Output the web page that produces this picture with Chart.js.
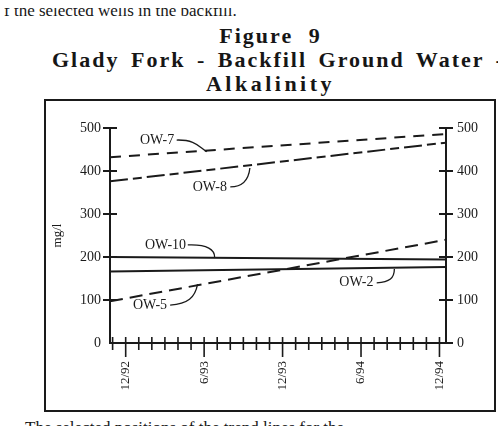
<!DOCTYPE html>
<html>
<head>
<meta charset="utf-8">
<script src="https://cdn.jsdelivr.net/npm/chart.js@4.4.1/dist/chart.umd.min.js"></script>
<style>
  html, body { margin: 0; padding: 0; background: #fff; }
  body { width: 498px; height: 426px; position: relative; overflow: hidden;
         font-family: 'Liberation Serif', 'Times New Roman', serif; color: #161616; }
  .txt { position: absolute; white-space: nowrap; }
  #lead { left: 4px; top: 8px; height: 12px; width: 498px; overflow: hidden; font-size: 17px; }
  #lead span { position: absolute; left: 0; top: -7px; }
  .ttl { position: absolute; left: 45px; width: 451px; text-align: center; font-weight: bold;
         font-size: 22px; letter-spacing: 2px; word-spacing: 2px; white-space: nowrap; line-height: 24px; }
  #t1 { top: 24px; word-spacing: 8px; }
  #t2 { top: 48px; left: 52px; width: auto; text-align: left; word-spacing: 4px; }
  #t3 { top: 72px; letter-spacing: 3.5px; }
  #box { position: absolute; left: 44px; top: 99px; width: 452px; height: 313px;
         box-sizing: border-box; border: 2px solid #1a1a1a; }
  #wrap { position: absolute; left: 46px; top: 101px; width: 448px; height: 309px; }
  #foot { left: 25px; top: 418px; font-size: 17px; }
</style>
</head>
<body>
<div id="lead" class="txt"><span>f the selected wells in the backfill.</span></div>
<div id="t1" class="ttl">Figure 9</div>
<div id="t2" class="ttl">Glady Fork - Backfill Ground Water -</div>
<div id="t3" class="ttl">Alkalinity</div>
<div id="box"></div>
<div id="wrap"><canvas id="chart" width="448" height="309"></canvas></div>
<div id="foot" class="txt">The selected positions of the trend lines for the</div>

<script>
// months since 12/92, trend lines span the whole axis
const months = [-1.2, 24.5];
const ow7 = [432, 486];
const ow8 = [376, 466];
const ow10 = [200, 194];
const ow2 = [166, 177];
const ow5 = [97, 240];

const yTicks = [0, 100, 200, 300, 400, 500];
const majorMonths = [0, 6, 12, 18, 24];
const monthLabels = ['12/92', '6/93', '12/93', '6/94', '12/94'];
const minorMonths = [];
for (let m = -1; m <= 24; m++) minorMonths.push(m);

const ink = '#1a1a1a';
const serif = "'Liberation Serif', 'Times New Roman', serif";

// label text + leader curve, in data coords (month, mg/l)
const callouts = [
  { text: 'OW-7', at: [1.09, 472], path: [[3.9, 472], [5.4, 473], [5.6, 455], [6.2, 445]] },
  { text: 'OW-8', at: [5.13, 361], path: [[8.0, 363], [8.95, 363], [9.4, 379], [9.5, 407]] },
  { text: 'OW-10', at: [1.47, 226], path: [[4.75, 228], [6.3, 230], [6.8, 216], [6.8, 200]] },
  { text: 'OW-5', at: [0.55, 88], path: [[3.4, 88], [4.75, 91], [5.3, 105], [5.5, 137]] },
  { text: 'OW-2', at: [16.34, 142], path: [[19.2, 140], [20.2, 142], [20.55, 151], [20.55, 172]] }
];

function pts(ys) {
  return months.map((m, i) => ({ x: m, y: ys[i] }));
}

function line(ctx, x1, y1, x2, y2) {
  ctx.beginPath();
  ctx.moveTo(x1, y1);
  ctx.lineTo(x2, y2);
  ctx.stroke();
}

const crossTicks = {
  id: 'crossTicks',
  afterDraw(chart) {
    const { ctx, chartArea, scales: { x, y } } = chart;
    ctx.save();
    ctx.strokeStyle = ink;
    ctx.lineWidth = 2;
    yTicks.forEach(v => {
      const py = y.getPixelForValue(v);
      if (v !== 0) line(ctx, chartArea.left - 7, py, chartArea.left + 7, py);
      line(ctx, v === 0 ? chartArea.right : chartArea.right - 7, py, chartArea.right + 7, py);
    });
    ctx.lineWidth = 1.6;
    minorMonths.forEach(m => {
      const px = x.getPixelForValue(m);
      const major = majorMonths.includes(m);
      line(ctx, px, chartArea.bottom - 6, px, chartArea.bottom + (major ? 14 : 7));
    });
    ctx.restore();
  }
};

const calloutPlugin = {
  id: 'callouts',
  afterDraw(chart) {
    const { ctx, scales: { x, y } } = chart;
    ctx.save();
    ctx.fillStyle = ink;
    ctx.strokeStyle = ink;
    ctx.lineWidth = 1.3;
    ctx.font = '14px ' + serif;
    ctx.textBaseline = 'middle';
    callouts.forEach(c => {
      ctx.fillText(c.text, x.getPixelForValue(c.at[0]), y.getPixelForValue(c.at[1]));
      const p = c.path.map(q => [x.getPixelForValue(q[0]), y.getPixelForValue(q[1])]);
      ctx.beginPath();
      ctx.moveTo(p[0][0], p[0][1]);
      ctx.bezierCurveTo(p[1][0], p[1][1], p[2][0], p[2][1], p[3][0], p[3][1]);
      ctx.stroke();
    });
    ctx.restore();
  }
};

function trend(label, ys, dash) {
  return {
    label,
    data: pts(ys),
    borderColor: ink,
    borderWidth: 2,
    borderDash: dash,
    pointRadius: 0,
    fill: false,
    tension: 0
  };
}

new Chart(document.getElementById('chart'), {
  type: 'line',
  data: {
    datasets: [
      trend('OW-7', ow7, [11, 8]),
      trend('OW-8', ow8, [18, 5, 9, 5]),
      trend('OW-10', ow10, []),
      trend('OW-2', ow2, []),
      trend('OW-5', ow5, [13, 7])
    ]
  },
  options: {
    responsive: false,
    animation: false,
    layout: { padding: { top: 27, left: 0, right: 0, bottom: 0 } },
    plugins: {
      legend: { display: false },
      tooltip: { enabled: false }
    },
    scales: {
      x: {
        type: 'linear',
        position: 'bottom',
        min: -1.2,
        max: 24.5,
        grid: { display: false, drawTicks: false },
        border: { display: true, color: ink, width: 2 },
        ticks: {
          color: ink,
          font: { family: serif, size: 13 },
          padding: 18,
          minRotation: 90,
          maxRotation: 90,
          autoSkip: false,
          callback: v => monthLabels[majorMonths.indexOf(v)] ?? ''
        },
        afterBuildTicks: s => { s.ticks = majorMonths.map(v => ({ value: v })); },
        afterFit: s => { s.height = 67; }
      },
      y: {
        position: 'left',
        min: 0,
        max: 500,
        grid: { display: false, drawTicks: false },
        border: { display: true, color: ink, width: 2 },
        ticks: { stepSize: 100, color: ink, padding: 9, font: { family: serif, size: 14 } },
        title: { display: true, text: 'mg/l', color: ink, font: { family: serif, size: 13 } },
        afterFit: s => { s.width = 64; }
      },
      y2: {
        position: 'right',
        min: 0,
        max: 500,
        grid: { display: false, drawTicks: false },
        border: { display: true, color: ink, width: 2 },
        ticks: { stepSize: 100, color: ink, padding: 11, font: { family: serif, size: 14 } },
        afterFit: s => { s.width = 48; }
      }
    }
  },
  plugins: [crossTicks, calloutPlugin]
});
</script>
</body>
</html>
